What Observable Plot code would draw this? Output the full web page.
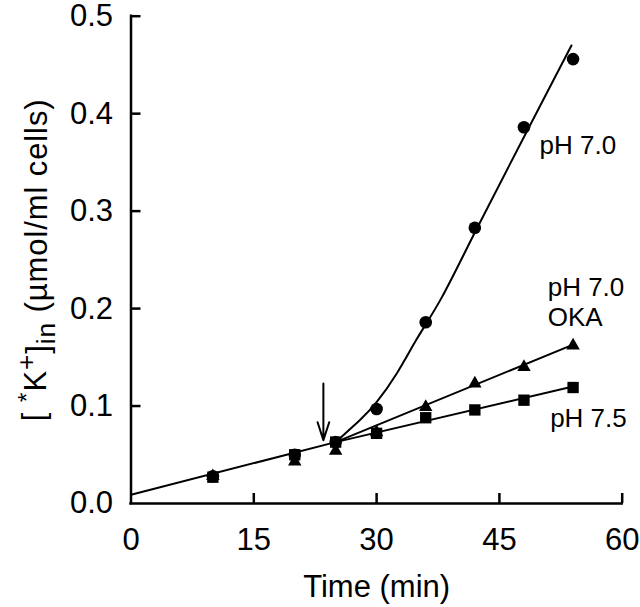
<!DOCTYPE html>
<html>
<head>
<meta charset="utf-8">
<script src="https://cdn.jsdelivr.net/npm/d3@7"></script>
<script src="https://cdn.jsdelivr.net/npm/@observablehq/plot@0.6"></script>
<style>
  html, body { margin: 0; padding: 0; background: #fff; }
  #chart { width: 640px; height: 607px; }
</style>
</head>
<body>
<div id="chart"></div>
<script>
// ---- data ----
const time = [10, 20, 25, 30, 36, 42, 48, 54];
const ph70 = [0.028, 0.050, 0.063, 0.097, 0.186, 0.283, 0.386, 0.456];
const oka  = [0.028, 0.043, 0.054, 0.073, 0.099, 0.123, 0.140, 0.162];
const ph75 = [0.027, 0.050, 0.063, 0.072, 0.088, 0.096, 0.106, 0.119];

// fitted lines
const baseFitT = [0, 25];
const baseFitV = [0.009, 0.063];
const ph70FitT = [25, 28, 30, 32.5, 35, 38, 42, 48, 53.8];
const ph70FitV = [0.063, 0.086, 0.104, 0.134, 0.170, 0.212, 0.278, 0.376, 0.470];
const okaFitT = [25, 54];
const okaFitV = [0.063, 0.163];
const ph75FitT = [25, 54];
const ph75FitV = [0.063, 0.120];

// arrow marking the addition (time, from value, to value)
const arrowT = [23.5];
const arrowFrom = [0.123];
const arrowTo = [0.065];

// annotation labels
const labelText = ["pH 7.0", "pH 7.0", "OKA", "pH 7.5"];
const labelT = [49.9, 50.9, 50.9, 51.2];
const labelV = [0.359, 0.213, 0.182, 0.078];

const xTicks = [0, 15, 30, 45, 60];
const yTicks = [0, 0.1, 0.2, 0.3, 0.4, 0.5];
const xLabel = "Time (min)";
const yLabel = "[*K+]in (µmol/ml cells)";

// ---- build tables ----
const pts = (vals) => time.map((t, i) => ({t, v: vals[i]}));
const fit = (T, V) => T.map((t, i) => ({t, v: V[i]}));
const arrows = arrowT.map((t, i) => ({t, v1: arrowFrom[i], v2: arrowTo[i]}));
const labels = labelText.map((s, i) => ({s, t: labelT[i], v: labelV[i]}));

const W = 640, H = 607;
const mL = 130.5, mR = 18.3, mT = 15.7, mB = 104;
const plotW = W - mL - mR, plotH = H - mT - mB;
const tickLen = 10;
const font = "'Liberation Sans', Arial, Helvetica, sans-serif";

const chart = Plot.plot({
  width: W, height: H,
  marginLeft: mL, marginRight: mR, marginTop: mT, marginBottom: mB,
  style: {fontFamily: font, fontSize: "31px", background: "#fff", color: "#000"},
  x: {domain: [0, 60]},
  y: {domain: [0, 0.5]},
  marks: [
    // axis lines
    Plot.ruleX([0], {stroke: "#000", strokeWidth: 2.5, strokeLinecap: "square"}),
    Plot.ruleY([0], {stroke: "#000", strokeWidth: 2.5, strokeLinecap: "square"}),
    // inward ticks
    Plot.tickY(yTicks.slice(1), {y: d => d, stroke: "#000", strokeWidth: 2.5, insetRight: plotW - tickLen}),
    Plot.tickX(xTicks.slice(1), {x: d => d, stroke: "#000", strokeWidth: 2.5, insetTop: plotH - tickLen}),
    // tick labels
    Plot.axisY({ticks: yTicks, tickSize: 0, tickPadding: 18, tickFormat: d => d.toFixed(1), label: null}),
    Plot.axisX({ticks: xTicks, tickSize: 0, tickPadding: 24, tickFormat: d => String(d), label: null}),
    // fitted lines
    Plot.line(fit(baseFitT, baseFitV), {x: "t", y: "v", stroke: "#000", strokeWidth: 2}),
    Plot.line(fit(ph70FitT, ph70FitV), {x: "t", y: "v", stroke: "#000", strokeWidth: 2, curve: "natural"}),
    Plot.line(fit(okaFitT, okaFitV), {x: "t", y: "v", stroke: "#000", strokeWidth: 2}),
    Plot.line(fit(ph75FitT, ph75FitV), {x: "t", y: "v", stroke: "#000", strokeWidth: 2}),
    // data points
    Plot.dot(pts(ph70), {x: "t", y: "v", symbol: "circle", r: 6.3, fill: "#000", stroke: "none"}),
    Plot.dot(pts(oka), {x: "t", y: "v", symbol: "triangle", r: 5, fill: "#000", stroke: "none"}),
    Plot.dot(pts(ph75), {x: "t", y: "v", symbol: "square", r: 6.4, fill: "#000", stroke: "none"}),
    // arrow
    Plot.arrow(arrows, {x1: "t", x2: "t", y1: "v1", y2: "v2", stroke: "#000", strokeWidth: 2, headAngle: 36, headLength: 21}),
    // annotations
    Plot.text(labels, {x: "t", y: "v", text: "s", textAnchor: "start", lineAnchor: "bottom", fontSize: 26, fill: "#000"}),
    // axis titles
    Plot.text([xLabel], {frameAnchor: "bottom", text: d => d, dy: 93, textAnchor: "middle", lineAnchor: "bottom", fontSize: 31, fill: "#000"}),
    Plot.text([yLabel], {frameAnchor: "left", text: d => d, dx: -87, rotate: -90, textAnchor: "middle", lineAnchor: "bottom", fontSize: 31, fill: "#000", className: "ylab"})
  ]
});

// rich formatting of the y-axis title (superscripts / subscript)
const yt = d3.select(chart).select("g.ylab text");
if (!yt.empty()) {
  const parts = [
    {s: "[ ", dy: 0, fs: null},
    {s: "*", dy: -0.38, fs: "0.8em"},
    {s: "K", dy: 0.38, fs: null},
    {s: "+", dy: -0.42, fs: "0.85em"},
    {s: "]", dy: 0.42, fs: null},
    {s: "in", dy: 0.25, fs: "0.85em"},
    {s: " (µmol/ml cells)", dy: -0.25, fs: null}
  ];
  yt.text(null).attr("text-anchor", "middle").attr("letter-spacing", "0.9px");
  for (const p of parts) {
    const ts = yt.append("tspan").text(p.s);
    if (p.dy) ts.attr("dy", p.dy + "em");
    if (p.fs) ts.attr("font-size", p.fs);
  }
}

document.getElementById("chart").appendChild(chart);
</script>
</body>
</html>
